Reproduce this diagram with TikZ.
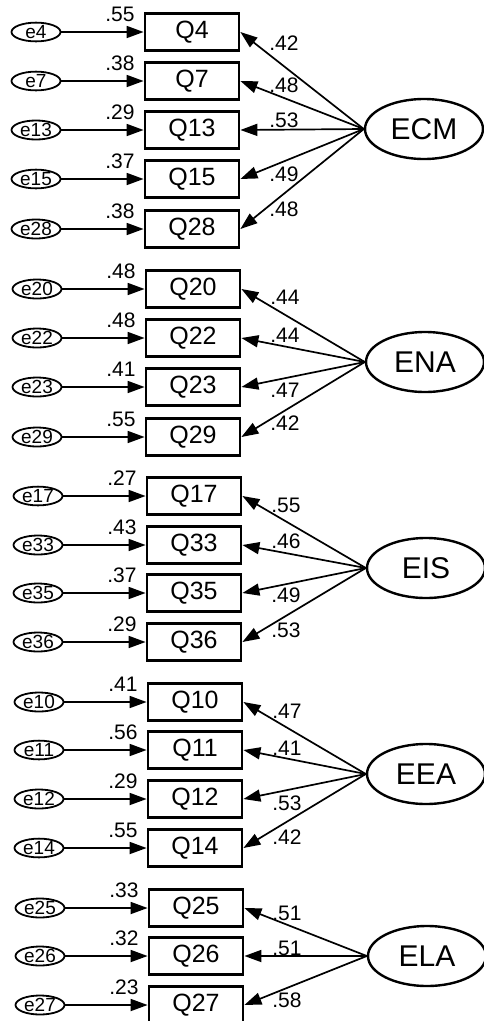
\documentclass[tikz,border=0pt]{standalone}
\usepackage{fontspec}
\setmainfont{Liberation Sans}
\usetikzlibrary{shapes.geometric,arrows.meta}
\tikzset{
  obs/.style={draw,rectangle,line width=2.8pt,minimum width=94pt,minimum height=37pt,inner sep=1pt,font=\fontsize{25}{28}\selectfont},
  err/.style={draw,ellipse,line width=1.8pt,minimum width=49pt,minimum height=16pt,inner sep=0pt,font=\fontsize{19}{20}\selectfont},
  lat/.style={draw,ellipse,line width=2.4pt,minimum width=118pt,minimum height=60pt,inner sep=0pt,font=\fontsize{30}{32}\selectfont},
  arr/.style={-{Triangle[length=17pt,width=12pt]},line width=1.7pt},
  lab/.style={inner sep=0pt,font=\fontsize{21}{22}\selectfont},
}
\begin{document}
\begin{tikzpicture}[x=1pt,y=-1pt]
\useasboundingbox (0,0) rectangle (483,1021);
\newcommand{\obsrow}[5]{% xshift, y, box name, error name, error variance
  \node[obs] (#3) at (192+#1,#2) {#3};
  \node[err] (#4) at (36+#1,#2) {#4};
  \draw[arr] (#4) -- (#3);
  \node[lab] (v#3) at (120+#1,#2-18) {#5};
}
% ECM
\obsrow{0}{32}{Q4}{e4}{.55}
\obsrow{0}{81}{Q7}{e7}{.38}
\obsrow{0}{130}{Q13}{e13}{.29}
\obsrow{0}{179}{Q15}{e15}{.37}
\obsrow{0}{229}{Q28}{e28}{.38}
\node[lat] (ECM) at (424,129) {ECM};
\foreach \q/\v/\ly in {Q4/.42/43,Q7/.48/85,Q13/.53/120,Q15/.49/174,Q28/.48/209}{
  \draw[arr] (ECM.west) -- (\q.east);
  \node[lab] (l\q) at (284,\ly) {\v};
}
% ENA
\obsrow{1}{289}{Q20}{e20}{.48}
\obsrow{1}{338}{Q22}{e22}{.48}
\obsrow{1}{387}{Q23}{e23}{.41}
\obsrow{1}{437}{Q29}{e29}{.55}
\node[lat] (ENA) at (425,362) {ENA};
\foreach \q/\v/\ly in {Q20/.44/297,Q22/.44/335,Q23/.47/390,Q29/.42/423}{
  \draw[arr] (ENA.west) -- (\q.east);
  \node[lab] (l\q) at (285,\ly) {\v};
}
% EIS
\obsrow{2}{496}{Q17}{e17}{.27}
\obsrow{2}{545}{Q33}{e33}{.43}
\obsrow{2}{593}{Q35}{e35}{.37}
\obsrow{2}{642}{Q36}{e36}{.29}
\node[lat] (EIS) at (426,568) {EIS};
\foreach \q/\v/\ly in {Q17/.55/505,Q33/.46/541,Q35/.49/595,Q36/.53/630}{
  \draw[arr] (EIS.west) -- (\q.east);
  \node[lab] (l\q) at (286,\ly) {\v};
}
% EEA
\obsrow{3}{702}{Q10}{e10}{.41}
\obsrow{3}{750}{Q11}{e11}{.56}
\obsrow{3}{799}{Q12}{e12}{.29}
\obsrow{3}{848}{Q14}{e14}{.55}
\node[lat] (EEA) at (426,774) {EEA};
\foreach \q/\v/\ly in {Q10/.47/711,Q11/.41/748,Q12/.53/803,Q14/.42/837}{
  \draw[arr] (EEA.west) -- (\q.east);
  \node[lab] (l\q) at (287,\ly) {\v};
}
% ELA
\obsrow{4}{908}{Q25}{e25}{.33}
\obsrow{4}{956}{Q26}{e26}{.32}
\obsrow{4}{1005}{Q27}{e27}{.23}
\node[lat] (ELA) at (427,956) {ELA};
\foreach \q/\v/\ly in {Q25/.51/913,Q26/.51/948,Q27/.58/1000}{
  \draw[arr] (ELA.west) -- (\q.east);
  \node[lab] (l\q) at (287,\ly) {\v};
}
\end{tikzpicture}
\end{document}
